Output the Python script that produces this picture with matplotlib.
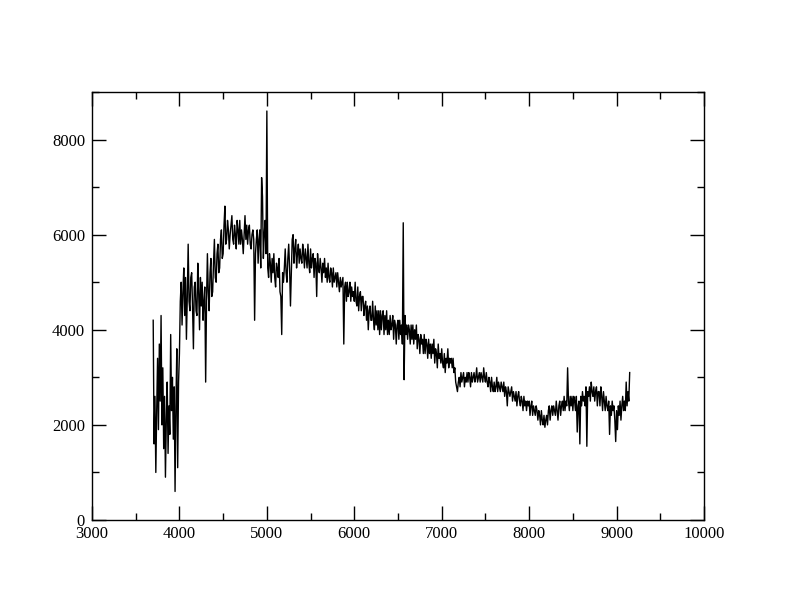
import numpy as np
import matplotlib
matplotlib.use("Agg")
import matplotlib.pyplot as plt
from matplotlib.ticker import MultipleLocator

# Flux sampled every 10 Angstrom starting at 3700 A (one row = 100 A)
start_wavelength = 3700
step_wavelength = 10
flux = [
    4200, 1600, 2600, 1000, 2300, 3400, 1900, 3700, 2500, 4300,   # 3700
    2000, 3200, 1500, 2600, 900, 2100, 2900, 1400, 2400, 1800,    # 3800
    3900, 2300, 3000, 1700, 2800, 600, 2400, 3600, 1100, 2900,    # 3900
    3500, 4600, 5000, 4100, 4800, 5300, 4300, 5100, 3800, 4700,   # 4000
    5800, 4600, 4400, 5100, 5200, 4500, 3600, 4900, 5000, 4400,   # 4100
    4300, 5400, 4800, 4000, 5100, 4500, 5000, 4200, 4600, 4900,   # 4200
    2900, 4600, 5600, 4800, 4400, 5200, 5500, 4700, 4800, 5400,   # 4300
    5900, 5100, 5000, 5600, 5800, 5200, 5300, 5900, 6100, 5500,   # 4400
    5600, 6200, 6600, 5800, 5900, 6300, 6100, 5700, 6000, 6200,   # 4500
    6400, 5900, 5800, 6200, 6000, 5700, 6300, 6100, 5800, 6300,   # 4600
    5800, 6100, 5900, 5600, 6000, 6400, 5900, 6200, 5800, 6100,   # 4700
    6200, 5800, 5700, 6000, 6100, 5900, 4200, 5600, 5900, 6100,   # 4800
    5400, 5900, 6100, 5300, 7200, 6800, 5500, 6000, 6300, 5600,   # 4900
    8600, 5300, 5100, 5600, 5400, 5000, 5500, 5200, 5600, 5100,   # 5000
    4900, 5400, 5300, 5100, 5500, 4800, 4700, 3900, 5200, 5000,   # 5100
    5300, 5700, 5200, 5000, 5500, 5800, 5300, 4500, 5200, 5900,   # 5200
    6000, 5400, 5700, 5900, 5300, 5600, 5800, 5400, 5700, 5500,   # 5300
    5400, 5800, 5600, 5300, 5700, 5500, 5300, 5800, 5400, 5200,   # 5400
    5700, 5300, 5500, 5600, 5100, 5500, 5400, 4700, 5600, 5300,   # 5500
    5200, 5500, 5300, 5000, 5400, 5200, 5500, 5100, 5300, 5000,   # 5600
    5400, 5100, 5000, 5300, 5200, 4900, 5300, 5000, 5100, 5200,   # 5700
    4900, 5200, 5000, 4800, 5100, 4900, 5000, 5100, 3700, 4900,   # 5800
    5000, 4600, 5000, 4700, 4800, 5000, 4600, 4900, 4700, 4800,   # 5900
    4600, 5000, 4600, 4500, 4900, 4400, 4700, 4800, 4400, 4700,   # 6000
    4700, 4300, 4500, 4600, 4200, 4500, 4000, 4400, 4500, 4200,   # 6100
    4200, 4600, 4200, 4000, 4500, 4100, 4400, 4000, 4400, 3900,   # 6200
    4400, 4000, 4300, 4400, 3900, 4300, 4000, 4400, 3900, 4200,   # 6300
    3900, 4300, 4000, 4100, 4300, 3800, 4200, 4100, 3700, 4100,   # 6400
    4200, 3800, 4200, 3900, 4100, 3700, 6250, 2950, 4300, 3900,   # 6500
    4100, 3800, 4100, 4000, 3700, 4100, 3800, 4100, 3700, 4000,   # 6600
    3800, 4100, 3600, 3900, 3800, 3500, 3900, 3700, 3800, 3500,   # 6700
    3900, 3500, 3800, 3700, 3400, 3800, 3500, 3700, 3400, 3700,   # 6800
    3500, 3800, 3300, 3600, 3500, 3200, 3700, 3400, 3500, 3300,   # 6900
    3600, 3300, 3200, 3500, 3100, 3400, 3300, 3600, 3200, 3400,   # 7000
    3300, 3400, 3200, 3400, 3100, 3200, 2900, 2800, 2700, 2900,   # 7100
    3000, 2800, 3100, 2900, 3000, 3100, 2800, 3000, 2900, 3100,   # 7200
    2900, 3100, 3000, 2800, 3100, 2900, 3000, 3100, 2900, 3000,   # 7300
    3200, 2900, 3000, 3100, 2900, 3100, 3000, 2900, 3200, 3000,   # 7400
    2900, 3100, 2900, 2800, 3000, 2900, 2700, 3000, 2800, 2700,   # 7500
    2900, 2700, 2800, 3000, 2700, 2900, 2800, 2700, 2900, 2800,   # 7600
    2700, 2900, 2600, 2800, 2700, 2400, 2800, 2700, 2600, 2700,   # 7700
    2800, 2500, 2700, 2600, 2500, 2700, 2400, 2600, 2700, 2500,   # 7800
    2400, 2600, 2500, 2300, 2600, 2400, 2500, 2300, 2500, 2400,   # 7900
    2500, 2200, 2400, 2500, 2200, 2400, 2300, 2200, 2400, 2300,   # 8000
    2100, 2300, 2200, 2000, 2300, 2100, 2000, 2200, 1950, 2100,   # 8100
    2200, 2000, 2300, 2400, 2100, 2300, 2400, 2200, 2400, 2300,   # 8200
    2200, 2500, 2300, 2100, 2400, 2500, 2200, 2400, 2500, 2300,   # 8300
    2600, 2300, 2500, 2400, 3200, 2500, 2300, 2600, 2400, 2600,   # 8400
    2300, 2600, 2500, 2300, 2600, 1850, 2400, 2500, 1600, 2600,   # 8500
    2400, 2700, 2500, 2600, 2400, 2800, 1550, 2700, 2600, 2800,   # 8600
    2500, 2900, 2700, 2600, 2800, 2500, 2700, 2800, 2400, 2700,   # 8700
    2700, 2400, 2800, 2600, 2300, 2700, 2500, 2300, 2600, 2400,   # 8800
    2300, 2500, 1800, 2400, 2200, 2500, 2300, 2400, 2100, 1650,   # 8900
    2300, 1900, 2400, 2200, 2500, 2100, 2400, 2600, 2300, 2500,   # 9000
    2300, 2900, 2400, 2700, 2500, 3100,                           # 9100
]
wavelength = start_wavelength + step_wavelength * np.arange(len(flux))

x_limits = (3000, 10000)
y_limits = (0, 9000)

plt.rcParams['font.family'] = ['Liberation Serif', 'DejaVu Serif']

fig = plt.figure(figsize=(7.92, 6.12), dpi=100)
ax = fig.add_axes([92/792, 1 - 520/612, (704-92)/792, (520-92)/612])
ax.plot(wavelength, flux, color='black', linewidth=1.0)
ax.set_xlim(*x_limits)
ax.set_ylim(*y_limits)

ax.xaxis.set_major_locator(MultipleLocator(1000))
ax.xaxis.set_minor_locator(MultipleLocator(500))
ax.yaxis.set_major_locator(MultipleLocator(2000))
ax.yaxis.set_minor_locator(MultipleLocator(1000))
ax.tick_params(which='both', direction='in', top=True, right=True,
               labelsize=12, width=1.0)
ax.tick_params(axis='x', pad=4.5)
ax.tick_params(axis='y', pad=5)
ax.tick_params(which='major', length=10)
ax.tick_params(which='minor', length=5)
for s in ax.spines.values():
    s.set_linewidth(1.0)

fig.savefig('out.png', dpi=100)
